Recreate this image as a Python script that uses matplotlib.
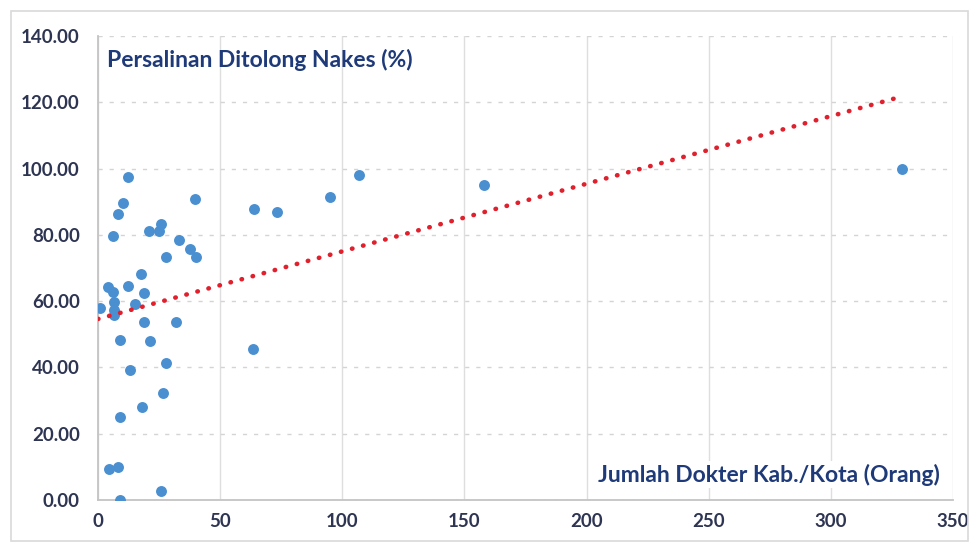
import numpy as np
import matplotlib
matplotlib.use("Agg")
import matplotlib.pyplot as plt
from matplotlib.patches import Rectangle

plt.rcParams['font.family'] = ['Lato', 'DejaVu Sans']

# jumlah dokter per kab/kota vs persalinan ditolong nakes (%)
dokter = [12.3, 10.3, 8.2, 6.2, 39.7, 20.8, 24.8, 25.7, 33.3, 37.6, 40.0, 27.8,
          17.6, 4.2, 6.2, 12.3, 19.0, 0.8, 6.6, 6.6, 6.4, 15.0, 19.0, 31.9,
          8.9, 21.1, 63.5, 27.8, 13.0, 26.7, 17.9, 8.9, 4.5, 8.2, 25.7, 8.9,
          64.0, 73.3, 95.0, 107.0, 158.1, 329.0]
persalinan = [97.6, 89.5, 86.2, 79.8, 90.8, 81.2, 81.2, 83.2, 78.5, 75.7, 73.4, 73.2,
              68.2, 64.2, 62.9, 64.6, 62.6, 57.8, 59.8, 57.3, 55.8, 59.0, 53.8, 53.6,
              48.3, 48.0, 45.5, 41.4, 39.2, 32.2, 28.2, 25.0, 9.3, 10.0, 2.7, 0.0,
              87.7, 86.8, 91.5, 98.1, 95.1, 99.9]

navy = '#1f3a78'
tick_col = '#2e3552'

fig = plt.figure(figsize=(9.79, 5.46), dpi=100)
ax = fig.add_axes([0.1001, 0.0842, 0.8733, 0.8498])

ax.scatter(dokter, persalinan, s=62, color='#4a8fd0', zorder=3, linewidths=0)

# linear trendline
x = np.array(dokter)
y = np.array(persalinan)
b, a = np.polyfit(x, y, 1)
xt = np.array([0, x.max()])
ax.plot(xt, a + b * xt, color='#e0202c', lw=3.3, linestyle=(0, (0.1, 2.4)),
        dash_capstyle='round', zorder=4)

ax.set_xlim(0, 350)
ax.set_ylim(0, 140)
ax.set_xticks(range(0, 351, 50))
ax.set_yticks(range(0, 141, 20))
ax.set_yticklabels([f'{v:.2f}' for v in range(0, 141, 20)])

ax.grid(axis='y', color='#d4d4d4', linestyle=(0, (3, 5)), lw=1)
ax.grid(axis='x', color='#dedede', linestyle='-', lw=1)
ax.set_axisbelow(True)

for s in ['top', 'right']:
    ax.spines[s].set_visible(False)
for s in ['left', 'bottom']:
    ax.spines[s].set_color('#c4c4c4')
    ax.spines[s].set_linewidth(1.3)

ax.tick_params(length=0, labelsize=13.5, labelcolor=tick_col)
ax.tick_params(axis='y', pad=13)
ax.tick_params(axis='x', pad=9)
for t in ax.get_xticklabels() + ax.get_yticklabels():
    t.set_fontweight('bold')

ax.text(0.011, 0.972, 'Persalinan Ditolong Nakes (%)', transform=ax.transAxes,
        fontsize=16.5, fontweight='bold', color=navy, ha='left', va='top')
ax.text(0.985, 0.055, 'Jumlah Dokter Kab./Kota (Orang)', transform=ax.transAxes,
        fontsize=16.5, fontweight='bold', color=navy, ha='right', va='center',
        bbox=dict(facecolor='white', edgecolor='none', pad=2))

fig.patches.append(Rectangle((0.011, 0.01), 0.978, 0.97, transform=fig.transFigure,
                             fill=False, edgecolor='#d9d9d9', lw=1.2))

fig.savefig('out.png', dpi=100)
